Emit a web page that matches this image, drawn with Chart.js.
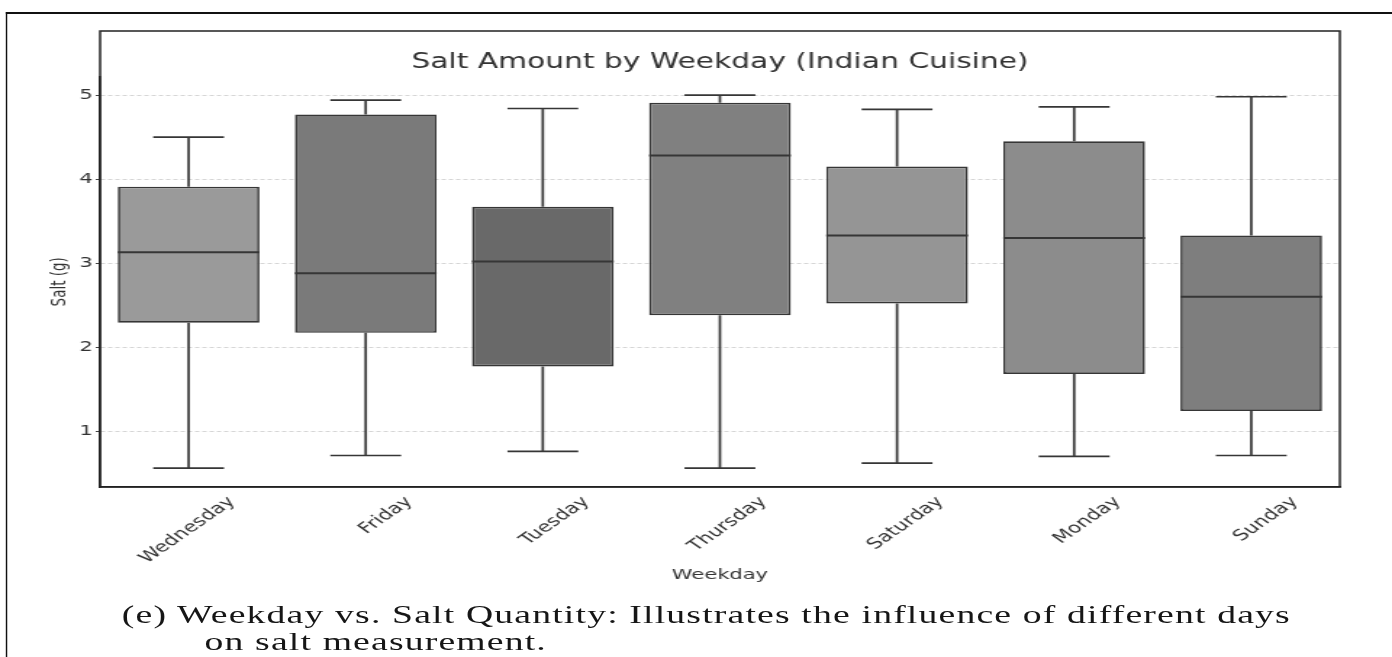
<!DOCTYPE html>
<html>
<head>
<meta charset="utf-8">
<title>Salt Amount by Weekday</title>
<script src="https://cdn.jsdelivr.net/npm/chart.js@4.4.1/dist/chart.umd.min.js"></script>
<style>
  html, body { margin: 0; padding: 0; background: #fff; overflow: hidden; width: 1392px; height: 657px; }
  /* the figure is laid out at 960px and widened to the full 1392px page */
  #stage { position: absolute; left: 0; top: 0; width: 960px; height: 657px; transform: scaleX(1.45); transform-origin: 0 0; }
  #frame { position: absolute; left: 4px; top: 12px; right: -10px; bottom: -20px; border-left: 1.6px solid #111; border-top: 2px solid #111; }
  canvas { position: absolute; left: 0; top: 0; }
  .cap { position: absolute; font-family: 'Liberation Serif', 'Times New Roman', serif; font-size: 26px; letter-spacing: 0.8px; color: #161616; white-space: nowrap; }
</style>
</head>
<body>
<div id="stage">
  <div id="frame"></div>
  <canvas id="c" width="960" height="657"></canvas>
  <div class="cap" style="left:84px; top:600px;">(e) Weekday vs. Salt Quantity: Illustrates the influence of different days</div>
  <div class="cap" style="left:141px; top:627px;">on salt measurement.</div>
</div>
<script>
// Five-number summaries of salt per dish (g), one box per weekday
const weekdays    = ['Wednesday', 'Friday', 'Tuesday', 'Thursday', 'Saturday', 'Monday', 'Sunday'];
const whiskerLow  = [0.56, 0.71, 0.76, 0.56, 0.62, 0.70, 0.71];
const quartile1   = [2.29, 2.17, 1.77, 2.38, 2.52, 1.68, 1.24];
const medians     = [3.13, 2.88, 3.02, 4.28, 3.33, 3.30, 2.60];
const quartile3   = [3.91, 4.77, 3.67, 4.91, 4.15, 4.45, 3.33];
const whiskerHigh = [4.50, 4.94, 4.84, 5.00, 4.83, 4.86, 4.98];
const yTickValues = [1, 2, 3, 4, 5];
const boxColors   = ['#9a9a9a', '#7a7a7a', '#696969', '#808080', '#959595', '#8c8c8c', '#7e7e7e'];

const LINE = '#363636';

// Whiskers, caps, medians and the axes frame, placed with the chart's own scales
const boxplotParts = {
  id: 'boxplotParts',
  beforeDatasetsDraw(chart) {
    const { ctx } = chart;
    const y = chart.scales.y;
    const meta = chart.getDatasetMeta(0);
    ctx.save();
    ctx.strokeStyle = LINE;
    ctx.lineWidth = 1.7;
    meta.data.forEach((bar, i) => {
      const cx = bar.x;
      const half = bar.width / 4;
      const yLow = y.getPixelForValue(whiskerLow[i]);
      const yQ1 = y.getPixelForValue(quartile1[i]);
      const yQ3 = y.getPixelForValue(quartile3[i]);
      const yHigh = y.getPixelForValue(whiskerHigh[i]);
      ctx.beginPath();
      ctx.moveTo(cx, yQ1); ctx.lineTo(cx, yLow);
      ctx.moveTo(cx - half, yLow); ctx.lineTo(cx + half, yLow);
      ctx.moveTo(cx, yQ3); ctx.lineTo(cx, yHigh);
      ctx.moveTo(cx - half, yHigh); ctx.lineTo(cx + half, yHigh);
      ctx.stroke();
    });
    ctx.restore();
  },
  afterDatasetsDraw(chart) {
    const { ctx } = chart;
    const y = chart.scales.y;
    const meta = chart.getDatasetMeta(0);
    ctx.save();
    ctx.strokeStyle = LINE;
    ctx.lineWidth = 2;
    meta.data.forEach((bar, i) => {
      const ym = y.getPixelForValue(medians[i]);
      ctx.beginPath();
      ctx.moveTo(bar.x - bar.width / 2, ym);
      ctx.lineTo(bar.x + bar.width / 2, ym);
      ctx.stroke();
    });
    ctx.restore();
  },
  afterDraw(chart) {
    const { ctx, chartArea } = chart;
    const top = chart.titleBlock ? chart.titleBlock.top : chartArea.top;
    ctx.save();
    ctx.strokeStyle = '#222';
    ctx.lineWidth = 1.5;
    ctx.strokeRect(chartArea.left, top, chartArea.right - chartArea.left, chartArea.bottom - top);
    ctx.restore();
  }
};

new Chart(document.getElementById('c'), {
  type: 'bar',
  data: {
    labels: weekdays,
    datasets: [{
      label: 'Salt (g)',
      data: quartile1.map((q, i) => [q, quartile3[i]]),
      backgroundColor: boxColors,
      borderColor: LINE,
      borderWidth: 1.7,
      borderSkipped: false,
      barPercentage: 0.8,
      categoryPercentage: 1.0
    }]
  },
  options: {
    responsive: false,
    maintainAspectRatio: false,
    animation: false,
    devicePixelRatio: 1,
    layout: { padding: { left: 25, right: 36, top: 31, bottom: 60 } },
    plugins: {
      legend: { display: false },
      tooltip: { enabled: false },
      title: {
        display: true,
        fullSize: false,
        text: 'Salt Amount by Weekday (Indian Cuisine)',
        color: '#333',
        font: { family: 'DejaVu Sans', size: 20.5, weight: 'normal' },
        padding: { top: 19, bottom: 2 }
      }
    },
    scales: {
      x: {
        grid: { display: false, drawTicks: false },
        border: { display: true, color: '#222', width: 1.5 },
        ticks: {
          color: '#333',
          font: { family: 'DejaVu Sans', size: 15 },
          minRotation: 45,
          maxRotation: 45,
          labelOffset: 30,
          padding: 6
        },
        title: {
          display: true,
          text: 'Weekday',
          color: '#333',
          font: { family: 'DejaVu Sans', size: 14.5 },
          padding: { top: 0, bottom: 13 }
        },
        afterFit(scale) { scale.height = 110; }
      },
      y: {
        min: 0.335,
        max: 5.22,
        afterBuildTicks(scale) { scale.ticks = yTickValues.map(v => ({ value: v })); },
        grid: {
          color: '#d6d6d6',
          lineWidth: 1,
          drawTicks: true,
          tickLength: 3,
          tickColor: '#444',
          tickBorderDash: []
        },
        border: { display: true, color: '#222', width: 1.5, dash: [3, 2] },
        ticks: {
          color: '#333',
          font: { family: 'DejaVu Sans', size: 14.5 },
          padding: 2,
          callback: v => String(v)
        },
        title: {
          display: true,
          text: 'Salt (g)',
          color: '#333',
          font: { family: 'DejaVu Sans', size: 13.5 },
          padding: { top: 8, bottom: 0 }
        },
        afterFit(scale) { scale.width = 44; }
      }
    }
  },
  plugins: [boxplotParts]
});
</script>
</body>
</html>
